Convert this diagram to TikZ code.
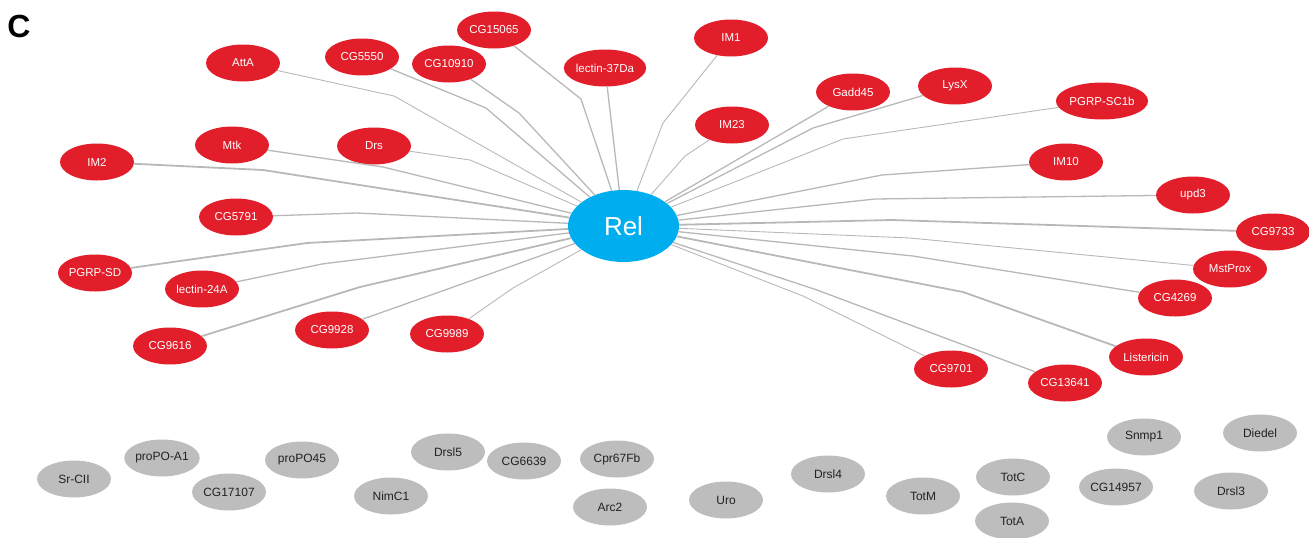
\documentclass[tikz,border=0pt]{standalone}
\usepackage{fontspec}
\setmainfont{Liberation Sans}
\usetikzlibrary{shapes.geometric}
\definecolor{nodered}{HTML}{E21E2B}
\definecolor{nodeblue}{HTML}{00AEEF}
\definecolor{nodegray}{HTML}{BDBDBD}
\definecolor{linkgray}{HTML}{B8B8B8}
\definecolor{graytext}{HTML}{222222}
\begin{document}
\begin{tikzpicture}[x=1pt,y=-1pt,
  rednode/.style={ellipse,fill=nodered,draw=none,minimum width=74pt,minimum height=37pt,inner sep=0pt,text=white,font=\fontsize{11.5}{13}\selectfont},
  graynode/.style={ellipse,fill=nodegray,draw=none,minimum width=74pt,minimum height=37pt,inner sep=0pt,text=graytext,font=\fontsize{12}{14}\selectfont},
  relnode/.style={ellipse,fill=nodeblue,draw=none,minimum width=111pt,minimum height=72pt,inner sep=0pt,text=white,font=\fontsize{26}{30}\selectfont},
  linkthin/.style={draw=linkgray,line width=0.9pt,line join=round},
  linkmid/.style={draw=linkgray,line width=1.3pt,line join=round},
  linkthick/.style={draw=linkgray,line width=1.8pt,line join=round}]
\useasboundingbox (0,0) rectangle (1309,538);
\node[font=\bfseries\fontsize{32}{36}\selectfont] (label) at (19,26) {C};
% hub
\node[relnode] (Rel) at (623.5,226) {Rel};
% red nodes
\node[rednode] (AttA) at (243,63) {AttA};
\node[rednode] (CG5550) at (362,57) {CG5550};
\node[rednode] (CG10910) at (449,64) {CG10910};
\node[rednode] (CG15065) at (494,30) {CG15065};
\node[rednode] (lectin37Da) at (605,68) {lectin-37Da};
\node[rednode] (IM1) at (731,38) {IM1};
\node[rednode] (IM23) at (732,125) {IM23};
\node[rednode] (Gadd45) at (853,92) {Gadd45};
\node[rednode] (LysX) at (955,86) {LysX};
\node[rednode] (PGRPSC1b) at (1102,101) {PGRP-SC1b};
\node[rednode] (IM10) at (1066,162) {IM10};
\node[rednode] (upd3) at (1193,195) {upd3};
\node[rednode] (CG9733) at (1273,232) {CG9733};
\node[rednode] (MstProx) at (1230,269) {MstProx};
\node[rednode] (CG4269) at (1175,298) {CG4269};
\node[rednode] (Listericin) at (1146,357) {Listericin};
\node[rednode] (CG13641) at (1065,383) {CG13641};
\node[rednode] (CG9701) at (951,369) {CG9701};
\node[rednode] (CG9989) at (447,334) {CG9989};
\node[rednode] (CG9928) at (332,330) {CG9928};
\node[rednode] (CG9616) at (170,346) {CG9616};
\node[rednode] (lectin24A) at (202,289) {lectin-24A};
\node[rednode] (PGRPSD) at (95,273) {PGRP-SD};
\node[rednode] (CG5791) at (236,217) {CG5791};
\node[rednode] (IM2) at (97,162) {IM2};
\node[rednode] (Mtk) at (232,145) {Mtk};
\node[rednode] (Drs) at (374,146) {Drs};
% gray nodes
\node[graynode] (SrCII) at (74,479) {Sr-CII};
\node[graynode] (proPOA1) at (162,458) {proPO-A1};
\node[graynode] (CG17107) at (229,492) {CG17107};
\node[graynode] (proPO45) at (302,460) {proPO45};
\node[graynode] (NimC1) at (391,496) {NimC1};
\node[graynode] (Drsl5) at (448,452) {Drsl5};
\node[graynode] (CG6639) at (524,461) {CG6639};
\node[graynode] (Cpr67Fb) at (617,459) {Cpr67Fb};
\node[graynode] (Arc2) at (610,507) {Arc2};
\node[graynode] (Uro) at (726,500) {Uro};
\node[graynode] (Drsl4) at (828,474) {Drsl4};
\node[graynode] (TotM) at (923,496) {TotM};
\node[graynode] (TotC) at (1013,477) {TotC};
\node[graynode] (TotA) at (1012,521) {TotA};
\node[graynode] (CG14957) at (1116,487) {CG14957};
\node[graynode] (Snmp1) at (1144,437) {Snmp1};
\node[graynode] (Diedel) at (1260,433) {Diedel};
\node[graynode] (Drsl3) at (1231,491) {Drsl3};
% links
\draw[linkthin] (AttA) -- (394,96) -- (Rel);
\draw[linkmid] (CG5550) -- (486,108) -- (Rel);
\draw[linkmid] (CG10910) -- (519,113) -- (Rel);
\draw[linkmid] (CG15065) -- (581,99) -- (Rel);
\draw[linkmid] (lectin37Da) -- (Rel);
\draw[linkthin] (IM1) -- (663,123) -- (Rel);
\draw[linkthin] (IM23) -- (685,156) -- (Rel);
\draw[linkmid] (Gadd45) -- (Rel);
\draw[linkmid] (LysX) -- (813,128) -- (Rel);
\draw[linkthin] (PGRPSC1b) -- (843,139) -- (Rel);
\draw[linkmid] (IM10) -- (882,175) -- (Rel);
\draw[linkmid] (upd3) -- (875,199) -- (Rel);
\draw[linkthick] (CG9733) -- (892,220) -- (Rel);
\draw[linkthin] (MstProx) -- (910,238) -- (Rel);
\draw[linkmid] (CG4269) -- (913,256) -- (Rel);
\draw[linkthick] (Listericin) -- (963,292) -- (Rel);
\draw[linkmid] (CG13641) -- (817,290) -- (Rel);
\draw[linkthin] (CG9701) -- (803,296) -- (Rel);
\draw[linkthin] (CG9989) -- (513,288) -- (Rel);
\draw[linkmid] (CG9928) -- (445,290) -- (Rel);
\draw[linkthick] (CG9616) -- (360,287) -- (Rel);
\draw[linkmid] (lectin24A) -- (322,264) -- (Rel);
\draw[linkthick] (PGRPSD) -- (307,243) -- (Rel);
\draw[linkmid] (CG5791) -- (357,213) -- (Rel);
\draw[linkthick] (IM2) -- (263,170) -- (Rel);
\draw[linkmid] (Mtk) -- (383,167) -- (Rel);
\draw[linkthin] (Drs) -- (470,160) -- (Rel);
\end{tikzpicture}
\end{document}
